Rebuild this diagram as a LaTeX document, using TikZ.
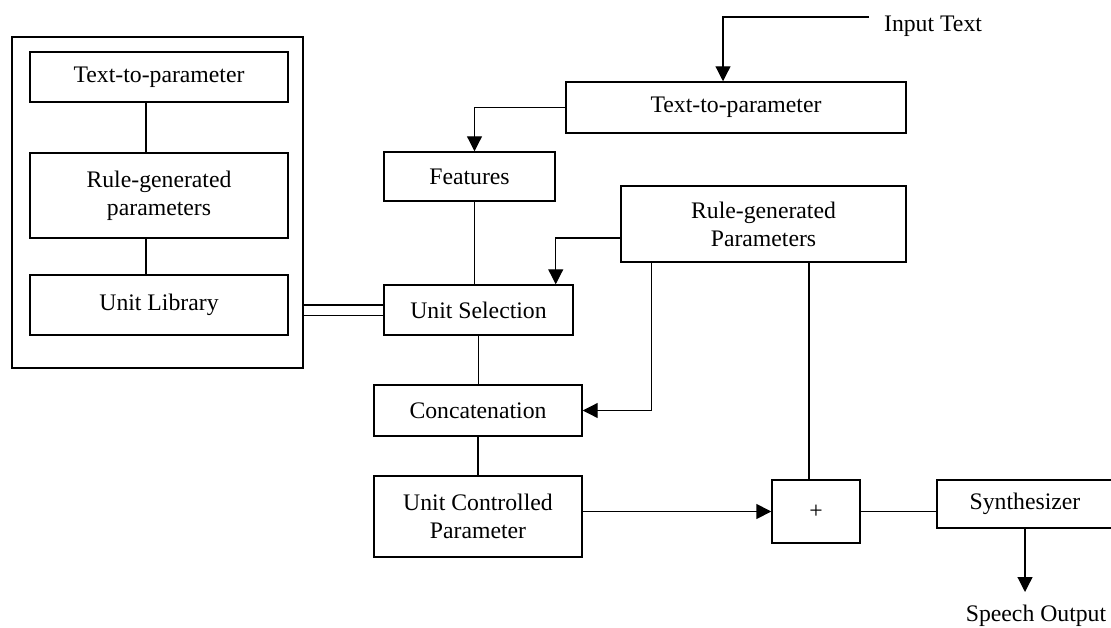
\documentclass[tikz,border=0pt]{standalone}
\usepackage{fontspec}
\setmainfont{Liberation Serif}
\usetikzlibrary{arrows.meta,positioning,calc}

\begin{document}
\begin{tikzpicture}[x=0.02cm, y=-0.02cm, font=\fontsize{13.5}{16}\selectfont,
  >={Triangle[length=0.3cm, width=0.3cm]},
  blk/.style={draw, line width=0.85pt, inner sep=0pt, align=center},
  wire/.style={line width=0.7pt}]
\useasboundingbox (0,0) rectangle (1111,628);
% bloque de la izquierda
\node[blk, minimum width=5.82cm, minimum height=6.62cm] (grp) at (157.5,202.5) {};
\node[blk, minimum width=5.16cm, minimum height=1.0cm] (lt2p) at (159,77) {Text-to-parameter};
\node[blk, minimum width=5.16cm, minimum height=1.7cm] (lrgp) at (159,195.5) {Rule-generated\\parameters};
\node[blk, minimum width=5.16cm, minimum height=1.2cm] (ulib) at (159,305) {Unit Library};
\draw[wire] ([xshift=-0.26cm]lt2p.south) -- ([xshift=-0.26cm]lrgp.north);
\draw[wire] ([xshift=-0.26cm]lrgp.south) -- ([xshift=-0.26cm]ulib.north);
% cadena principal
\node[blk, minimum width=6.8cm, minimum height=1.02cm] (tt2p) at (736,107.5) {Text-to-parameter};
\node[blk, minimum width=3.42cm, minimum height=0.98cm] (feat) at (469.5,176.5) {Features};
\node[blk, minimum width=5.7cm, minimum height=1.52cm] (rgp) at (763.5,224) {Rule-generated\\Parameters};
\node[blk, minimum width=3.78cm, minimum height=1.0cm] (usel) at (478.5,310) {Unit Selection};
\node[blk, minimum width=4.16cm, minimum height=1.02cm] (conc) at (478,410.5) {Concatenation};
\node[blk, minimum width=4.16cm, minimum height=1.62cm] (ucp) at (478,516.5) {Unit Controlled\\Parameter};
\node[blk, minimum width=1.76cm, minimum height=1.26cm] (plus) at (816,511.5) {+};
\node[blk, minimum width=3.52cm, minimum height=0.96cm] (synth) at (1025,504) {Synthesizer};
\node (intext) at (933,26) {Input Text};
\node (spout) at (1036,616) {Speech Output};
\coordinate (inend) at (869,17);
\coordinate (outtip) at (1025,592);
% conexiones
\draw[wire, ->] (inend) -| ([xshift=-0.26cm]tt2p.north);
\draw[wire, ->] (tt2p.west) -| ([xshift=0.1cm]feat.north);
\draw[wire] ([xshift=0.1cm]feat.south) -- ([xshift=0.1cm]feat.south |- usel.north);
\draw[wire, ->] ([yshift=-0.28cm]rgp.west) -| ([xshift=-0.36cm]usel.north east);
\draw[wire, double, double distance=0.18cm] (grp.east |- usel.west) -- (usel.west);
\draw[wire] (usel.south) -- (usel.south |- conc.north);
\draw[wire, ->] ([xshift=0.62cm]rgp.south west) |- (conc.east);
\draw[wire] (conc.south) -- (conc.south |- ucp.north);
\draw[wire] ([xshift=-0.14cm]plus.north |- rgp.south) -- ([xshift=-0.14cm]plus.north);
\draw[line width=1pt, ->] (ucp.east |- plus.west) -- (plus.west);
\draw[wire] (plus.east) -- (plus.east -| synth.west);
\draw[wire, ->] (synth.south) -- (outtip);
\end{tikzpicture}
\end{document}
